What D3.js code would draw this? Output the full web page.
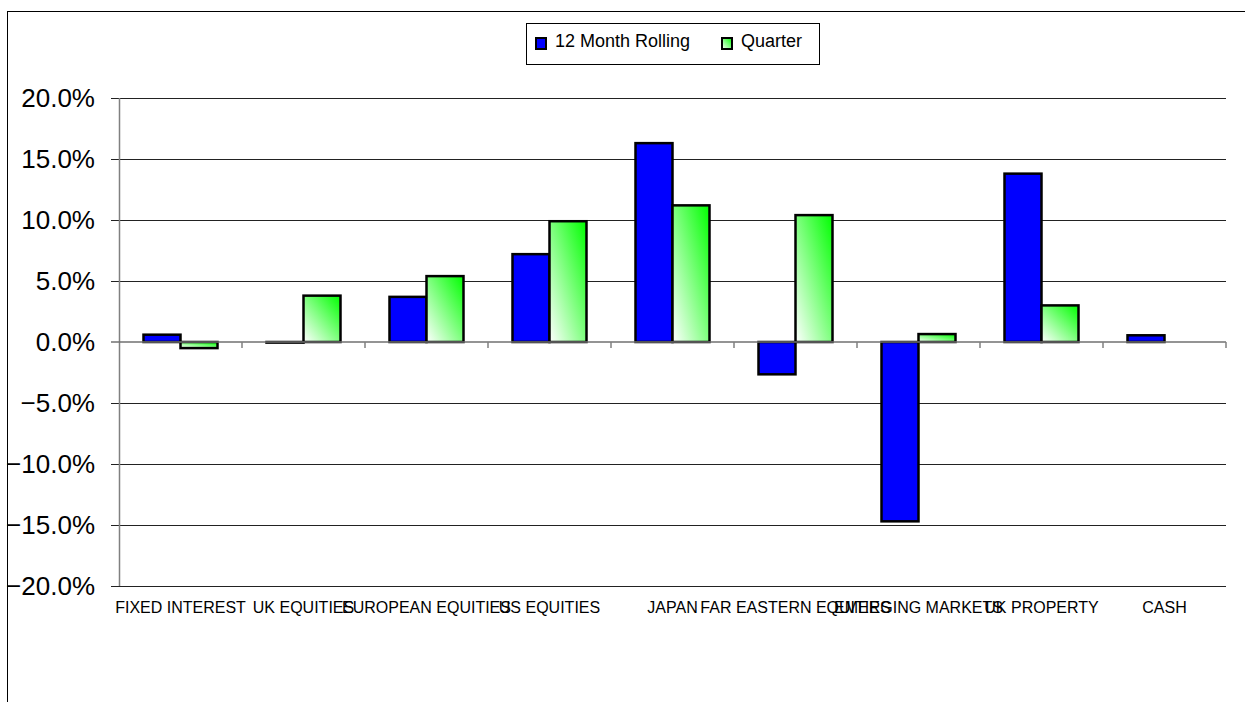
<!DOCTYPE html>
<html>
<head>
<meta charset="utf-8">
<script src="https://cdn.jsdelivr.net/npm/d3@7"></script>
<style>
  body { margin: 0; background: #fff; }
  text { font-family: Arial, "Liberation Sans", sans-serif; fill: #000; }
</style>
</head>
<body>
<div id="chart"></div>
<script>
// chart data
const categories = ["FIXED INTEREST", "UK EQUITIES", "EUROPEAN EQUITIES", "US EQUITIES", "JAPAN",
  "FAR EASTERN EQUITIES", "EMERGING MARKETS", "UK PROPERTY", "CASH"];
const seriesNames = ["12 Month Rolling", "Quarter"];
const rolling12 = [0.6, -0.05, 3.7, 7.2, 16.3, -2.65, -14.7, 13.8, 0.55];
const quarter = [-0.5, 3.8, 5.4, 9.9, 11.2, 10.4, 0.65, 3.0, 0.0];
const yTicks = [-20, -15, -10, -5, 0, 5, 10, 15, 20];

const W = 1245, H = 702;
const plotLeft = 119, plotRight = 1226, plotTop = 98, plotBottom = 586;

const svg = d3.select("#chart").append("svg")
  .attr("width", W).attr("height", H);

// gradient for the quarter bars (green top-right fading to white bottom-left)
const grad = svg.append("defs").append("linearGradient")
  .attr("id", "qgrad")
  .attr("x1", 1).attr("y1", 0).attr("x2", 0).attr("y2", 1);
grad.append("stop").attr("offset", "0%").attr("stop-color", "#00ff00");
grad.append("stop").attr("offset", "100%").attr("stop-color", "#ffffff");

// outer chart border (only left and top are visible)
svg.append("rect")
  .attr("x", 7.5).attr("y", 11.5)
  .attr("width", 1400).attr("height", 1000)
  .attr("fill", "none").attr("stroke", "#000").attr("stroke-width", 1);

const y = d3.scaleLinear().domain([-20, 20]).range([plotBottom, plotTop]);
const x0 = d3.scaleBand().domain(categories).range([plotLeft, plotRight]).padding(0);
const x1 = d3.scaleBand().domain(seriesNames).range([0, x0.bandwidth()])
  .paddingInner(0).paddingOuter(0.662);

// gridlines and y ticks
svg.append("g").selectAll("line")
  .data(yTicks.filter((d) => d !== 0))
  .enter().append("line")
  .attr("x1", plotLeft - 8).attr("x2", plotRight)
  .attr("y1", (d) => Math.round(y(d)) + 0.5)
  .attr("y2", (d) => Math.round(y(d)) + 0.5)
  .attr("stroke", "#222").attr("stroke-width", 1);

// y axis line
svg.append("line")
  .attr("x1", plotLeft + 0.5).attr("x2", plotLeft + 0.5)
  .attr("y1", y(20)).attr("y2", y(-20))
  .attr("stroke", "#808080").attr("stroke-width", 1.5);

// y tick labels
svg.append("g").selectAll("text")
  .data(yTicks)
  .enter().append("text")
  .attr("x", 95)
  .attr("y", (d) => y(d))
  .attr("dy", "0.36em")
  .attr("text-anchor", "end")
  .style("font-size", "26px")
  .text((d) => d3.format(".1f")(d) + "%");

// bars
const groups = svg.append("g").selectAll("g")
  .data(categories)
  .enter().append("g")
  .attr("transform", (d) => "translate(" + x0(d) + ",0)");

groups.selectAll("rect")
  .data((d, i) => [
    { s: seriesNames[0], v: rolling12[i] },
    { s: seriesNames[1], v: quarter[i] },
  ])
  .enter().append("rect")
  .attr("x", (d) => x1(d.s))
  .attr("width", x1.bandwidth())
  .attr("y", (d) => y(Math.max(0, d.v)))
  .attr("height", (d) => Math.abs(y(d.v) - y(0)))
  .attr("fill", (d) => (d.s === seriesNames[0] ? "#0000ff" : "url(#qgrad)"))
  .attr("stroke", "#000").attr("stroke-width", 2.5);

// zero line with category ticks
svg.append("line")
  .attr("x1", plotLeft - 8).attr("x2", plotRight)
  .attr("y1", y(0)).attr("y2", y(0))
  .attr("stroke", "#707070").attr("stroke-width", 1.5);

svg.append("g").selectAll("line")
  .data(categories.slice(1).map((c) => x0(c)).concat([plotRight]))
  .enter().append("line")
  .attr("x1", (d) => d).attr("x2", (d) => d)
  .attr("y1", y(0)).attr("y2", y(0) + 6)
  .attr("stroke", "#808080").attr("stroke-width", 1.5);

// category labels (they overlap in the original too)
svg.append("g").selectAll("text")
  .data(categories)
  .enter().append("text")
  .attr("x", (d) => x0(d) + x0.bandwidth() / 2)
  .attr("y", 613)
  .attr("text-anchor", "middle")
  .style("font-size", "16px")
  .text((d) => d);

// legend
const legend = svg.append("g");
legend.append("rect")
  .attr("x", 526.5).attr("y", 23.5).attr("width", 293).attr("height", 41)
  .attr("fill", "#fff").attr("stroke", "#000").attr("stroke-width", 1);

const legendX = [536, 722];
const legendTextX = [555, 741];
seriesNames.forEach((name, i) => {
  legend.append("rect")
    .attr("x", legendX[i]).attr("y", 38)
    .attr("width", 10).attr("height", 11)
    .attr("fill", i === 0 ? "#0000ff" : "url(#qgrad)")
    .attr("stroke", "#000").attr("stroke-width", 2);
  legend.append("text")
    .attr("x", legendTextX[i]).attr("y", 47)
    .style("font-size", "18px")
    .text(name);
});
</script>
</body>
</html>
